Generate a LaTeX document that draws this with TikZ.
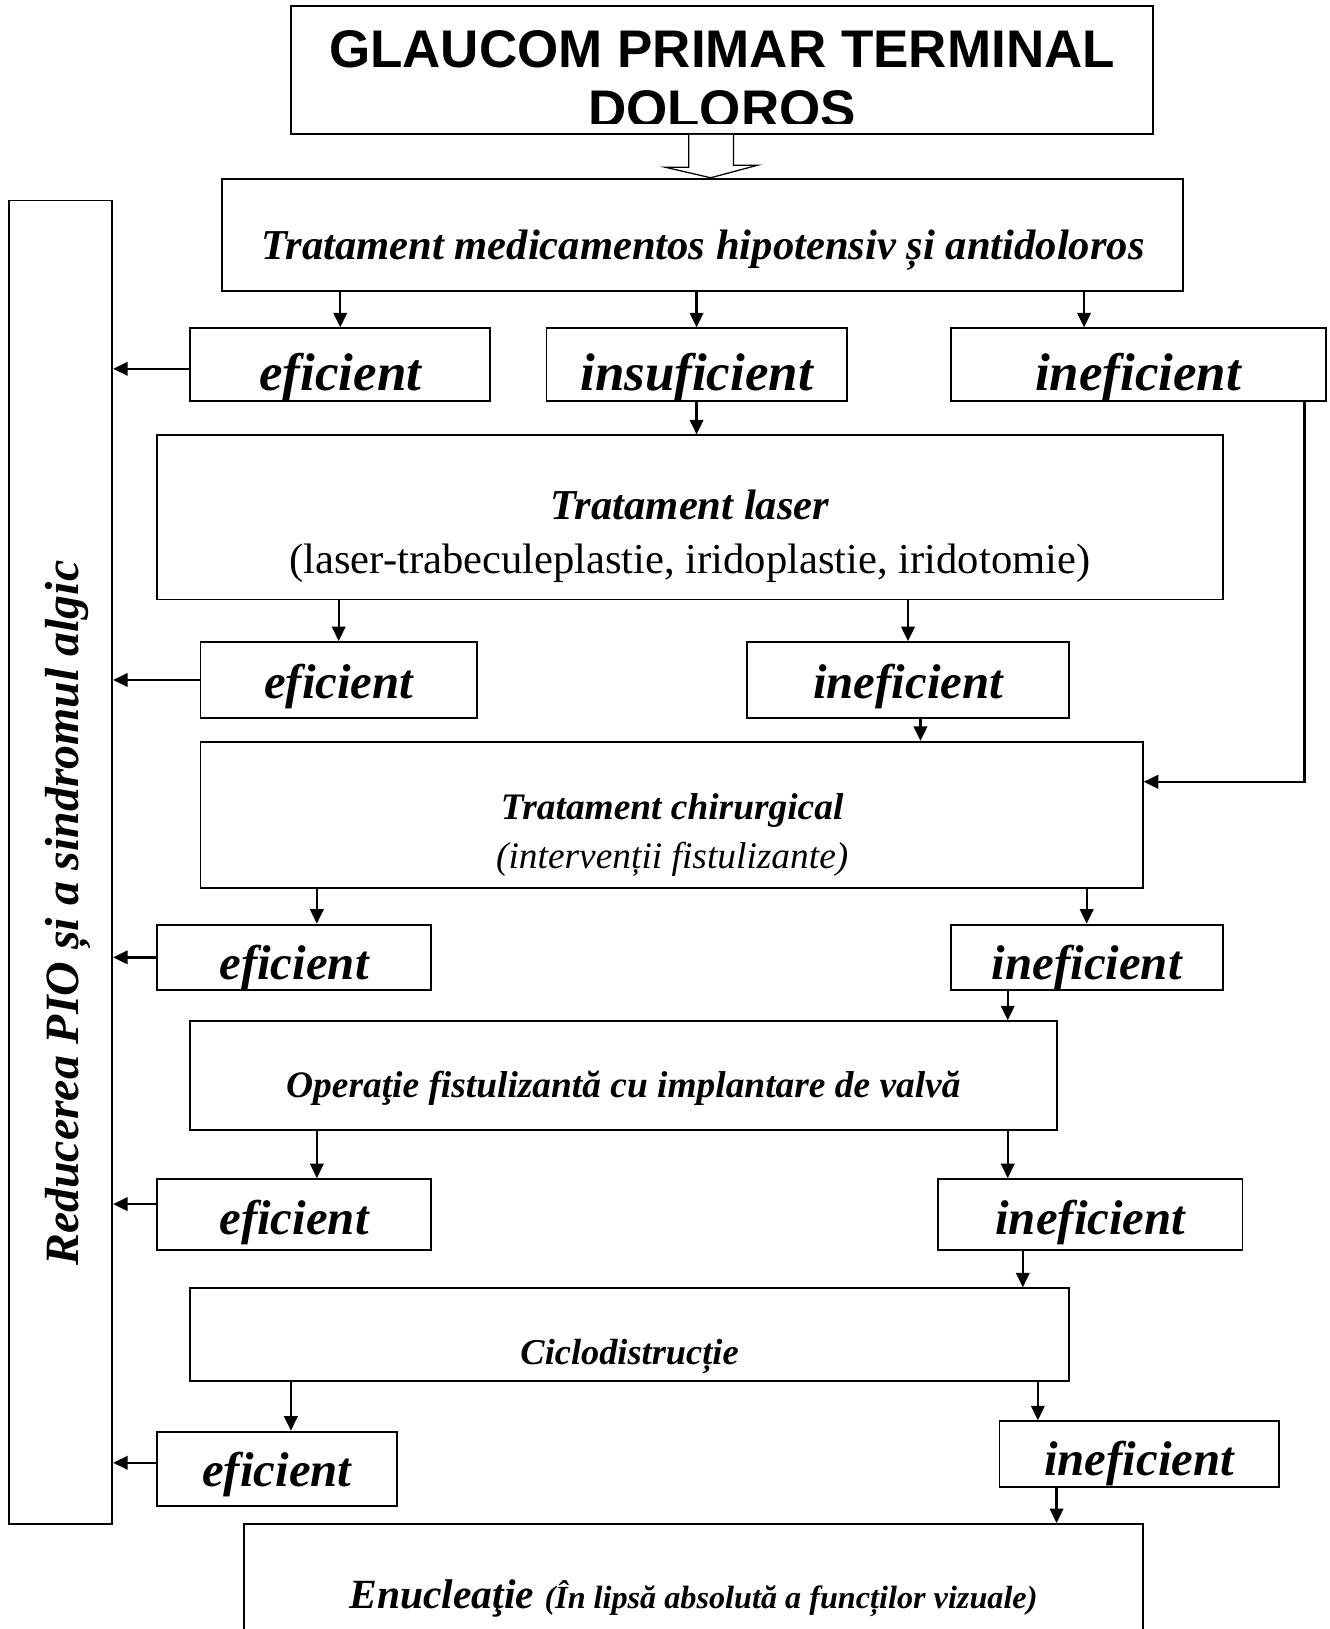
\documentclass[tikz,border=0pt]{standalone}
\usepackage{fontspec}
\setmainfont{Liberation Serif}
\newfontfamily\headfont{Liberation Sans}
\usetikzlibrary{arrows.meta}

\tikzset{every picture/.style={line width=1.8pt}}

\begin{document}
\begin{tikzpicture}[x=1pt,y=-1pt,
	>={Triangle[length=14pt,width=13pt]},
	box/.style={draw,line width=1.8pt,inner sep=0pt},
	res/.style={box,font=\fontsize{47}{50}\selectfont\bfseries\itshape,text height=40pt,text depth=0pt},
	big/.style={res,font=\fontsize{51}{56}\selectfont\bfseries\itshape,text height=50pt},
	headtext/.style={font=\headfont\bfseries\fontsize{51}{56}\selectfont,inner sep=0pt},
	arr/.style={->,line width=2.2pt}]
				\useasboundingbox (0,0) rectangle (1280,1568);
				% titlu
				\node[box,minimum width=830pt,minimum height=123pt] (title) at (695,67.5) {};
				\begin{scope} \clip (title.north west) rectangle ([yshift=11pt]title.south east);
					\node[headtext,anchor=base] (title-a) at (695,65) {GLAUCOM PRIMAR TERMINAL};
					\node[headtext,anchor=base] (title-b) at (695,123) {DOLOROS};
				\end{scope}
				% etapele
				\node[box,minimum width=925pt,minimum height=108pt,font=\fontsize{41}{46}\selectfont\bfseries\itshape,text height=48pt,text depth=0pt] (med) at (676.5,226) {Tratament medicamentos hipotensiv și antidoloros};
				\draw[line width=1.2pt,fill=white] ([xshift=-32pt]title.south) -- ++(0,31) -- ++(-23,0) -- ([xshift=7.5pt]med.north) -- ++(45,-12) -- ++(-23,0) -- ([xshift=11pt]title.south); %sageata goala
				\node[box,rotate=90,minimum width=1274pt,minimum height=99pt] (bar) at (58.5,830) {};
				\node[rotate=90,font=\fontsize{46}{50}\selectfont\bfseries\itshape,text height=34pt,text depth=0pt] (bar-t) at (58.5,879) {Reducerea PIO și a sindromul algic};
				\node[big,minimum width=289pt,minimum height=70pt] (ef1) at (327.5,351) {eficient};
				\node[big,minimum width=289pt,minimum height=70pt] (ins1) at (670.5,351) {insuficient};
				\node[big,minimum width=361pt,minimum height=70pt] (inef1) at (1095.5,351) {ineficient};
				\node[box,minimum width=1026pt,minimum height=158pt] (laser) at (664,498) {};
				\node[anchor=base,font=\fontsize{41}{46}\selectfont\bfseries\itshape] (laser-a) at (664,500) {Tratament laser};
				\node[anchor=base,font=\fontsize{41}{46}\selectfont] (laser-b) at (664,552) {(laser-trabeculeplastie, iridoplastie, iridotomie)};
				\node[res,minimum width=266pt,minimum height=73pt,text height=36pt] (ef2) at (326,654.5) {eficient};
				\node[res,minimum width=310pt,minimum height=73pt,text height=36pt] (inef2) at (874,654.5) {ineficient};
				\node[box,minimum width=907pt,minimum height=141pt] (chir) at (646.5,784.5) {};
				\node[anchor=base,font=\fontsize{36}{40}\selectfont\bfseries\itshape] (chir-a) at (647,789) {Tratament chirurgical};
				\node[anchor=base,font=\fontsize{36}{40}\selectfont\itshape] (chir-b) at (647,836) {(intervenții fistulizante)};
				\node[res,minimum width=264pt,minimum height=63pt,text height=42pt] (ef3) at (283,921.5) {eficient};
				\node[res,minimum width=262pt,minimum height=63pt,text height=42pt] (inef3) at (1046,921.5) {ineficient};
				\node[box,minimum width=834pt,minimum height=105pt,font=\fontsize{36}{40}\selectfont\bfseries\itshape,text height=42pt,text depth=0pt] (oper) at (600,1035.5) {Operaţie fistulizantă cu implantare de valvă};
				\node[res,minimum width=264pt,minimum height=68pt,text height=38pt] (ef4) at (283,1169) {eficient};
				\node[res,minimum width=293pt,minimum height=68pt,text height=38pt] (inef4) at (1049.5,1169) {ineficient};
				\node[box,minimum width=846pt,minimum height=89pt,font=\fontsize{35}{40}\selectfont\bfseries\itshape,text height=58pt,text depth=0pt] (ciclo) at (606,1284.5) {Ciclodistrucție};
				\node[res,minimum width=231pt,minimum height=72pt,text height=34pt] (ef5) at (266.5,1414) {eficient};
				\node[res,minimum width=269pt,minimum height=63pt,text height=42pt] (inef5) at (1096.5,1399.5) {ineficient};
				\node[box,minimum width=865pt,minimum height=133pt,font=\fontsize{40}{44}\selectfont\bfseries\itshape,text height=29pt,text depth=0pt] (enuc) at (667.5,1533.5) {Enucleaţie {\fontsize{31}{34}\selectfont(În lipsă absolută a funcților vizuale)}};
				% sageti
				\draw[arr] (ef1.north |- med.south) -- (ef1.north);
				\draw[arr] (ins1.north |- med.south) -- (ins1.north);
				\coordinate (p1) at ([xshift=-52pt]inef1.north);
				\draw[arr] (p1 |- med.south) -- (p1);
				\coordinate (p0) at ([yshift=-4pt]ef1.west);
				\draw[arr] (p0) -- (p0 -| bar.south);
				\draw[arr] (ins1.south) -- (ins1.south |- laser.north);
				\coordinate (p2) at ([xshift=160pt]inef1.south);
				\coordinate (p3) at ([yshift=32pt]chir.east);
				\draw[arr] (p2) -- (p2 |- p3) -- (p3); %ocolire spre chirurgie
				\draw[arr] (ef2.north |- laser.south) -- (ef2.north);
				\draw[arr] (inef2.north |- laser.south) -- (inef2.north);
				\draw[arr] (ef2.west) -- (ef2.west -| bar.south);
				\coordinate (p4) at ([xshift=12pt]inef2.south);
				\draw[arr] (p4) -- (p4 |- chir.north);
				\coordinate (p5) at ([xshift=22pt]ef3.north);
				\draw[arr] (p5 |- chir.south) -- (p5);
				\draw[arr] (inef3.north |- chir.south) -- (inef3.north);
				\draw[arr] (ef3.west) -- (ef3.west -| bar.south);
				\coordinate (p6) at ([xshift=-76pt]inef3.south);
				\draw[arr] (p6) -- (p6 |- oper.north);
				\coordinate (p7) at ([xshift=22pt]ef4.north);
				\draw[arr] (p7 |- oper.south) -- (p7);
				\coordinate (p8) at ([xshift=-79.5pt]inef4.north);
				\draw[arr] (p8 |- oper.south) -- (p8);
				\coordinate (p9) at ([yshift=10pt]ef4.west);
				\draw[arr] (p9) -- (p9 -| bar.south);
				\coordinate (p10) at ([xshift=-65pt]inef4.south);
				\draw[arr] (p10) -- (p10 |- ciclo.north);
				\coordinate (p11) at ([xshift=13.5pt]ef5.north);
				\draw[arr] (p11 |- ciclo.south) -- (p11);
				\coordinate (p12) at ([xshift=-97.5pt]inef5.north);
				\draw[arr] (p12 |- ciclo.south) -- (p12);
				\coordinate (p13) at ([yshift=6pt]ef5.west);
				\draw[arr] (p13) -- (p13 -| bar.south);
				\coordinate (p14) at ([xshift=-79.5pt]inef5.south);
				\draw[arr] (p14) -- (p14 |- enuc.north);
			\end{tikzpicture}
\end{document}
